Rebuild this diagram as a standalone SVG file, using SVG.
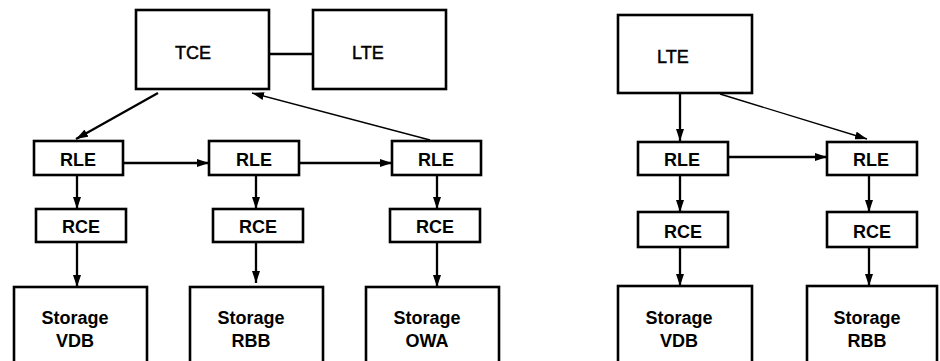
<svg xmlns="http://www.w3.org/2000/svg" width="940" height="361" viewBox="0 0 940 361">
  <style>
    .box { fill: #ffffff; stroke: #000000; stroke-width: 2.6; }
    .lbl { font-family: "Liberation Sans", Arial, sans-serif; font-size: 18px; font-weight: bold; fill: #000000; text-anchor: middle; }
    .top { font-family: "Liberation Sans", Arial, sans-serif; font-size: 18px; fill: #000000; stroke: #000000; stroke-width: 0.45; }
    .conn { stroke: #000000; stroke-width: 2.3; fill: none; }
    .thin { stroke: #000000; stroke-width: 1.4; fill: none; }
  </style>
  <defs>
    <marker id="head" markerUnits="userSpaceOnUse" markerWidth="12" markerHeight="8" refX="12" refY="4" orient="auto">
      <path d="M0,0 L12,4 L0,8 z" fill="#000000"/>
    </marker>
  </defs>

  <rect width="940" height="361" fill="#ffffff"/>

  <!-- connectors -->
  <g id="connectors">
    <line class="conn" x1="269" y1="54" x2="313" y2="54"/>
    <line class="conn" x1="158" y1="93" x2="76" y2="139" marker-end="url(#head)"/>
    <line class="thin" x1="430" y1="140" x2="252" y2="93" marker-end="url(#head)"/>
    <line class="conn" x1="123" y1="163" x2="209" y2="163" marker-end="url(#head)"/>
    <line class="conn" x1="299" y1="163" x2="392" y2="163" marker-end="url(#head)"/>
    <line class="conn" x1="77" y1="175" x2="77" y2="209" marker-end="url(#head)"/>
    <line class="conn" x1="256" y1="175" x2="256" y2="209" marker-end="url(#head)"/>
    <line class="conn" x1="437" y1="175" x2="437" y2="209" marker-end="url(#head)"/>
    <line class="conn" x1="77" y1="242" x2="77" y2="287" marker-end="url(#head)"/>
    <line class="conn" x1="256" y1="242" x2="256" y2="283" marker-end="url(#head)"/>
    <line class="conn" x1="437" y1="242" x2="437" y2="287" marker-end="url(#head)"/>

    <line class="conn" x1="680" y1="93" x2="680" y2="141" marker-end="url(#head)"/>
    <line class="thin" x1="720" y1="94" x2="867" y2="139" marker-end="url(#head)"/>
    <line class="conn" x1="728" y1="157" x2="827" y2="157" marker-end="url(#head)"/>
    <line class="conn" x1="680" y1="175" x2="680" y2="212" marker-end="url(#head)"/>
    <line class="conn" x1="869" y1="175" x2="869" y2="212" marker-end="url(#head)"/>
    <line class="conn" x1="680" y1="247" x2="680" y2="286" marker-end="url(#head)"/>
    <line class="conn" x1="869" y1="247" x2="869" y2="286" marker-end="url(#head)"/>
  </g>

  <!-- left system -->
  <g id="tce">
    <rect class="box" x="136" y="10" width="133" height="79"/>
    <text class="top" x="175" y="59">TCE</text>
  </g>
  <g id="lte-a">
    <rect class="box" x="313" y="10" width="133" height="79"/>
    <text class="top" x="352" y="59">LTE</text>
  </g>
  <g id="rle-a1">
    <rect class="box" x="34" y="141" width="89" height="34"/>
    <text class="lbl" x="78" y="166">RLE</text>
  </g>
  <g id="rle-a2">
    <rect class="box" x="209" y="141" width="90" height="34"/>
    <text class="lbl" x="254" y="166">RLE</text>
  </g>
  <g id="rle-a3">
    <rect class="box" x="392" y="141" width="89" height="34"/>
    <text class="lbl" x="436" y="166">RLE</text>
  </g>
  <g id="rce-a1">
    <rect class="box" x="36" y="209" width="90" height="33"/>
    <text class="lbl" x="81" y="233">RCE</text>
  </g>
  <g id="rce-a2">
    <rect class="box" x="213" y="209" width="90" height="33"/>
    <text class="lbl" x="258" y="233">RCE</text>
  </g>
  <g id="rce-a3">
    <rect class="box" x="390" y="209" width="90" height="33"/>
    <text class="lbl" x="435" y="233">RCE</text>
  </g>
  <g id="storage-vdb-a">
    <rect class="box" x="14" y="287" width="133" height="90"/>
    <text class="lbl" x="75" y="324">Storage</text>
    <text class="lbl" x="75" y="347">VDB</text>
  </g>
  <g id="storage-rbb-a">
    <rect class="box" x="190" y="287" width="133" height="90"/>
    <text class="lbl" x="251" y="324">Storage</text>
    <text class="lbl" x="251" y="347">RBB</text>
  </g>
  <g id="storage-owa">
    <rect class="box" x="366" y="287" width="133" height="90"/>
    <text class="lbl" x="427" y="324">Storage</text>
    <text class="lbl" x="427" y="347">OWA</text>
  </g>

  <!-- right system -->
  <g id="lte-b">
    <rect class="box" x="618" y="15" width="134" height="78"/>
    <text class="top" x="657" y="63">LTE</text>
  </g>
  <g id="rle-b1">
    <rect class="box" x="638" y="142" width="90" height="33"/>
    <text class="lbl" x="682" y="166">RLE</text>
  </g>
  <g id="rle-b2">
    <rect class="box" x="827" y="142" width="90" height="33"/>
    <text class="lbl" x="871" y="166">RLE</text>
  </g>
  <g id="rce-b1">
    <rect class="box" x="638" y="212" width="90" height="35"/>
    <text class="lbl" x="683" y="238">RCE</text>
  </g>
  <g id="rce-b2">
    <rect class="box" x="827" y="212" width="90" height="35"/>
    <text class="lbl" x="872" y="238">RCE</text>
  </g>
  <g id="storage-vdb-b">
    <rect class="box" x="618" y="286" width="134" height="90"/>
    <text class="lbl" x="679" y="324">Storage</text>
    <text class="lbl" x="679" y="347">VDB</text>
  </g>
  <g id="storage-rbb-b">
    <rect class="box" x="807" y="286" width="130" height="90"/>
    <text class="lbl" x="867" y="324">Storage</text>
    <text class="lbl" x="867" y="347">RBB</text>
  </g>
</svg>
